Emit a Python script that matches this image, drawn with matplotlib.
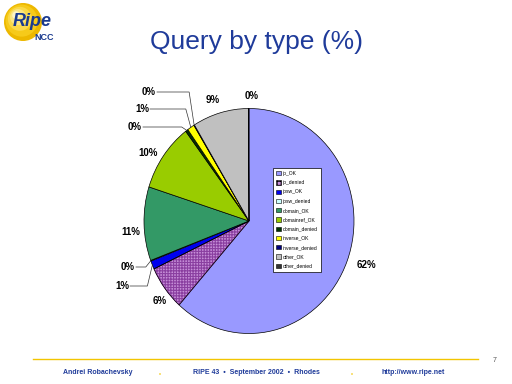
import matplotlib
matplotlib.use('Agg')
import matplotlib.pyplot as plt
import matplotlib.patches as mpatches
import numpy as np

# query types and share (%)
types = ['ip_OK', 'ip_denied', 'ipsw_OK', 'ipsw_denied', 'domain_OK', 'domainref_OK',
         'domain_denied', 'inverse_OK', 'inverse_denied', 'other_OK', 'other_denied']
share = [61.6, 6.4, 1.2, 0.1, 10.6, 9.8, 0.4, 1.1, 0.1, 8.6, 0.1]

colors = ['#9999FF', '#C68FD8', '#0000EE', '#CCFFFF', '#339966', '#99CC00',
          '#003300', '#FFFF00', '#000080', '#C0C0C0', '#333333']

# label centres in slide pixels (x, y from top), and which get a leader line
label_px = [(366, 265), (160, 301), (122, 286), (128, 267), (131, 232), (148, 153),
            (135, 127), (142, 109), (149, 92), (213, 100), (252, 96)]
leader = [False, False, True, True, False, False, True, True, True, False, False]

blue = '#1F3B9A'
cx, cy, rx, ry = 249, 221, 105, 112.5

plt.rcParams['hatch.linewidth'] = 0.8

fig = plt.figure(figsize=(5.12, 3.84), dpi=100)

ax = fig.add_axes([0, 0, 1, 1])
wedges, _ = ax.pie(share, colors=colors, startangle=90, counterclock=False,
                   wedgeprops=dict(edgecolor='black', linewidth=0.5))
wedges[1].set_hatch('++++++')
wedges[1].set_edgecolor('#8A3FA0')
ax.set_aspect('auto')
ax.set_xlim(-cx / rx, (512 - cx) / rx)
ax.set_ylim(-(384 - cy) / ry, cy / ry)
ax.axis('off')
# black outline over the hatched slice
w = wedges[1]
ax.add_patch(mpatches.Wedge(w.center, w.r, w.theta1, w.theta2, fill=False,
                            edgecolor='black', linewidth=0.5))

# overlay in pixel coords for text and decoration
deco = fig.add_axes([0, 0, 1, 1])
deco.set_xlim(0, 512)
deco.set_ylim(384, 0)
deco.axis('off')
deco.patch.set_alpha(0)

for k, wdg in enumerate(wedges):
    lx, ly = label_px[k]
    t = deco.text(lx, ly, f"{share[k]:.0f}%", ha='center', va='center', fontsize=7,
                  fontweight='bold', family='Liberation Sans')
    if leader[k]:
        th = np.radians((wdg.theta1 + wdg.theta2) / 2)
        ex, ey = cx + rx * np.cos(th), cy - ry * np.sin(th)
        deco.plot([lx + 8, ex - 5, ex], [ly, ly, ey], color='#333333', lw=0.5)

handles = [mpatches.Patch(facecolor=c, edgecolor='black', linewidth=0.4) for c in colors]
handles[1].set_hatch('++++')
leg = fig.legend(handles, types, loc='upper left', bbox_to_anchor=(273 / 512, 1 - 168 / 384),
                 prop={'family': 'Liberation Sans', 'size': 3.6}, frameon=True, fancybox=False,
                 framealpha=1, facecolor='white',
                 handlelength=0.9, handleheight=0.9, handletextpad=0.4, labelspacing=0.85,
                 borderpad=0.6, borderaxespad=0)
leg.get_frame().set_edgecolor('black')
leg.get_frame().set_linewidth(0.5)

# title
deco.text(257, 42, 'Query by type (%)', ha='center', va='center', fontsize=19,
          color=blue, family='Liberation Sans')

# logo
for r, c in [(19, '#EDB800'), (16, '#F6CA1A'), (12, '#FAD94A'), (8, '#FCE680'), (4, '#FEF4C8')]:
    off = (19 - r) * 0.45
    deco.add_patch(mpatches.Circle((23 - off, 22 - off), r, color=c, lw=0))
deco.text(13, 21, 'Ripe', fontsize=13, fontweight='bold', style='italic', color='#1A3A8F',
          family='Liberation Sans', va='center')
deco.text(34, 37, 'NCC', fontsize=6.5, fontweight='bold', color='#1A3A8F',
          family='Liberation Sans', va='center')

# footer
deco.plot([33, 478], [359, 359], color='#F2C500', lw=1)
deco.text(495, 361, '7', fontsize=5, color='#555555', family='Liberation Sans', ha='center', va='center')
deco.text(63, 373, 'Andrei Robachevsky', fontsize=5, fontweight='bold', color=blue,
          family='Liberation Sans', va='center')
deco.text(256, 373, 'RIPE 43  \u2022  September 2002  \u2022  Rhodes', fontsize=5, fontweight='bold',
          color=blue, family='Liberation Sans', va='center', ha='center')
deco.text(381, 373, 'http://www.ripe.net', fontsize=5, fontweight='bold', color=blue,
          family='Liberation Sans', va='center')
for x in [160, 352]:
    deco.add_patch(mpatches.Circle((x, 374), 0.8, color='#F2C500', lw=0))

fig.savefig('out.png', dpi=100)
